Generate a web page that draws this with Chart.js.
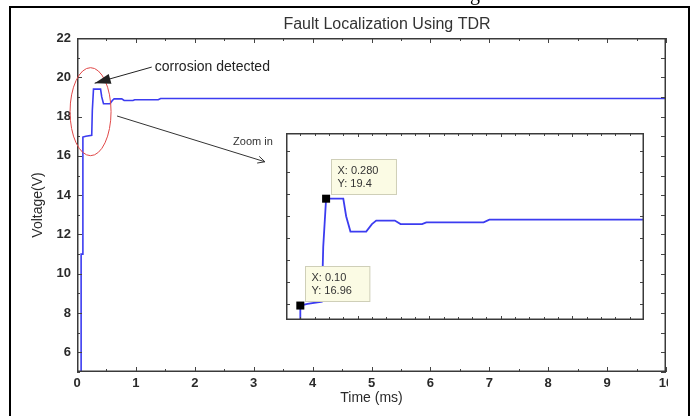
<!DOCTYPE html>
<html>
<head>
<meta charset="utf-8">
<script src="https://cdn.jsdelivr.net/npm/chart.js@4.4.0/dist/chart.umd.min.js"></script>
<style>
  html, body { margin: 0; padding: 0; background: #fff; }
  #wrap { position: relative; width: 696px; height: 416px; overflow: hidden; }
  #main { position: absolute; left: 0; top: 0; }
  #inset { position: absolute; left: 286px; top: 133px; background: #fff; }
</style>
</head>
<body>
<div id="wrap">
  <canvas id="main" width="696" height="416"></canvas>
  <canvas id="inset" width="358" height="187"></canvas>
</div>
<script>
// TDR trace
const timeMs  = [0.07, 0.07, 0.10, 0.10, 0.15, 0.25, 0.26, 0.28, 0.40, 0.42, 0.45, 0.56, 0.60, 0.63, 0.76, 0.80, 0.95, 0.98, 1.38, 1.42, 10];
const voltage = [0, 11, 11, 16.96, 17.0, 17.05, 18.3, 19.4, 19.4, 19.0, 18.65, 18.65, 18.82, 18.9, 18.9, 18.82, 18.82, 18.86, 18.86, 18.92, 18.92];

// tick labels of the main plot
const xTicks = [0, 1, 2, 3, 4, 5, 6, 7, 8, 9, 10];
const yTicks = [6, 8, 10, 12, 14, 16, 18, 20, 22];

// data tips shown in the zoomed view
const tipX = [0.10, 0.28];
const tipY = [16.96, 19.4];
const tipText = [['X: 0.10', 'Y: 16.96'], ['X: 0.280', 'Y: 19.4']];

const points = timeMs.map((t, i) => ({ x: t, y: voltage[i] }));
const lineBlue = '#3c3cf0';
const font = 'Liberation Sans';

// inward ticks on all four sides + box frame
function drawFrameTicks(chart, o) {
    const { ctx, chartArea: a, scales: { x, y } } = chart;
    ctx.save();
    ctx.strokeStyle = '#444';
    ctx.lineWidth = 1;
    ctx.beginPath();
    for (let i = Math.ceil(x.min / o.xStep - 1e-9); i * o.xStep <= x.max + 1e-9; i++) {
        const v = i * o.xStep;
        const major = Math.abs(v / o.xMajor - Math.round(v / o.xMajor)) < 1e-6;
        const len = major ? o.majorLen : o.minorLen;
        const px = Math.round(x.getPixelForValue(v)) + 0.5;
        ctx.moveTo(px, a.bottom); ctx.lineTo(px, a.bottom - len);
        ctx.moveTo(px, a.top); ctx.lineTo(px, a.top + len);
    }
    for (let i = Math.ceil(y.min / o.yStep - 1e-9); i * o.yStep <= y.max + 1e-9; i++) {
        const v = i * o.yStep;
        const major = Math.abs(v / o.yMajor - Math.round(v / o.yMajor)) < 1e-6;
        const py = Math.round(y.getPixelForValue(v)) + 0.5;
        ctx.moveTo(a.left, py); ctx.lineTo(a.left + (major ? o.majorLen : o.minorLen), py);
        ctx.moveTo(a.right, py); ctx.lineTo(a.right - o.majorLen, py);
    }
    ctx.stroke();
    ctx.lineWidth = o.frameWidth;
    ctx.strokeStyle = '#3a3a3a';
    const h = o.frameWidth / 2;
    ctx.strokeRect(a.left + h, a.top + h, a.width - 2 * h, a.height - 2 * h);
    ctx.restore();
}

function arrowHead(ctx, fromX, fromY, tipX, tipY, len, half, filled) {
    const dx = tipX - fromX, dy = tipY - fromY;
    const d = Math.hypot(dx, dy);
    const ux = dx / d, uy = dy / d;
    const bx = tipX - ux * len, by = tipY - uy * len;
    ctx.beginPath();
    ctx.moveTo(bx - uy * half, by + ux * half);
    ctx.lineTo(tipX, tipY);
    ctx.lineTo(bx + uy * half, by - ux * half);
    if (filled) { ctx.closePath(); ctx.fill(); } else { ctx.stroke(); }
}

const mainDecor = {
    id: 'mainDecor',
    afterDraw(chart) {
        drawFrameTicks(chart, { xStep: 0.5, xMajor: 1, yStep: 1, yMajor: 2, majorLen: 5, minorLen: 3, frameWidth: 1.5 });
        const { ctx, scales: { x, y } } = chart;
        ctx.save();

        // clipped "10" label like the screenshot
        ctx.fillStyle = '#fff';
        ctx.fillRect(668, 374, 19, 18);

        // title
        ctx.fillStyle = '#333';
        ctx.font = '16px "' + font + '"';
        ctx.textAlign = 'center';
        ctx.textBaseline = 'middle';
        ctx.fillText('Fault Localization Using TDR', 387, 25);

        // red ellipse round the step
        ctx.strokeStyle = '#e04848';
        ctx.lineWidth = 1;
        ctx.beginPath();
        ctx.ellipse(x.getPixelForValue(0.23), y.getPixelForValue(18.25), 20.5, 44, 0, 0, Math.PI * 2);
        ctx.stroke();

        // "corrosion detected" + arrow
        ctx.fillStyle = '#222';
        ctx.strokeStyle = '#222';
        ctx.font = '14px "' + font + '"';
        ctx.textAlign = 'left';
        const tx = x.getPixelForValue(1.32), ty = y.getPixelForValue(20.52);
        ctx.fillText('corrosion detected', tx, ty);
        const hx = x.getPixelForValue(0.3), hy = y.getPixelForValue(19.7);
        ctx.beginPath();
        ctx.moveTo(tx - 3, ty);
        ctx.lineTo(hx, hy);
        ctx.stroke();
        arrowHead(ctx, tx - 3, ty, hx, hy, 16, 5, true);

        // "Zoom in" arrow
        const sx = x.getPixelForValue(0.68), sy = y.getPixelForValue(18.03);
        const ex = x.getPixelForValue(3.19), ey = y.getPixelForValue(15.7);
        ctx.strokeStyle = '#333';
        ctx.beginPath();
        ctx.moveTo(sx, sy);
        ctx.lineTo(ex, ey);
        ctx.stroke();
        arrowHead(ctx, sx, sy, ex, ey, 7, 3.5, false);
        ctx.fillStyle = '#333';
        ctx.font = '11px "' + font + '"';
        ctx.fillText('Zoom in', x.getPixelForValue(2.65), y.getPixelForValue(16.72));

        // outer frame of the figure
        ctx.strokeStyle = '#000';
        ctx.lineWidth = 2;
        ctx.strokeRect(10, 7, 679, 430);

        // descender of the caption above, cut by the crop
        ctx.fillStyle = '#000';
        ctx.font = '20px "Liberation Serif"';
        ctx.textBaseline = 'alphabetic';
        ctx.fillText('g', 470, 0);
        ctx.restore();
    }
};

const insetDecor = {
    id: 'insetDecor',
    afterDraw(chart) {
        drawFrameTicks(chart, { xStep: 0.1, xMajor: 0.5, yStep: 0.5, yMajor: 0.5, majorLen: 4, minorLen: 3, frameWidth: 1.5 });
        const { ctx, scales: { x, y } } = chart;
        ctx.save();
        ctx.font = '11px "' + font + '"';
        ctx.textBaseline = 'middle';
        ctx.textAlign = 'left';
        tipX.forEach((tv, i) => {
            const mx = x.getPixelForValue(tv), my = y.getPixelForValue(tipY[i]);
            const w = Math.max(...tipText[i].map(s => ctx.measureText(s).width)) + 24;
            const bx = Math.round(mx + 5) + 0.5, by = Math.round(my - 40) + 0.5;
            ctx.fillStyle = '#fbfbe4';
            ctx.strokeStyle = '#cfcfb8';
            ctx.lineWidth = 1;
            ctx.fillRect(bx, by, w, 35);
            ctx.strokeRect(bx, by, w, 35);
            ctx.fillStyle = '#333';
            ctx.fillText(tipText[i][0], bx + 6, by + 11);
            ctx.fillText(tipText[i][1], bx + 6, by + 24);
            ctx.fillStyle = '#000';
            ctx.fillRect(mx - 4, my - 4, 8, 8);
        });
        ctx.restore();
    }
};

new Chart(document.getElementById('main').getContext('2d'), {
    type: 'line',
    data: {
        datasets: [{
            data: points,
            borderColor: lineBlue,
            borderWidth: 1.6,
            pointRadius: 0,
            tension: 0,
            fill: false
        }]
    },
    options: {
        responsive: false,
        animation: false,
        devicePixelRatio: 1,
        layout: { padding: { left: 10, right: 30, top: 38, bottom: 0 } },
        plugins: { legend: { display: false }, tooltip: { enabled: false } },
        scales: {
            x: {
                type: 'linear', min: 0, max: 10,
                afterBuildTicks: s => { s.ticks = xTicks.map(v => ({ value: v })); },
                afterFit: s => { s.height = 44; },
                grid: { display: false, drawTicks: false },
                border: { display: false },
                ticks: { padding: 4, color: '#2a2a2a', autoSkip: false, maxRotation: 0, font: { family: font, size: 13, weight: 'bold' } },
                title: { display: true, text: 'Time (ms)', color: '#2a2a2a', font: { family: font, size: 14 }, padding: { top: 0, bottom: 9 } }
            },
            y: {
                type: 'linear', min: 5, max: 22,
                afterBuildTicks: s => { s.ticks = yTicks.map(v => ({ value: v })); },
                afterFit: s => { s.width = 67; },
                grid: { display: false, drawTicks: false },
                border: { display: false },
                ticks: { padding: 6, color: '#2a2a2a', font: { family: font, size: 13, weight: 'bold' } },
                title: { display: true, text: 'Voltage(V)', color: '#2a2a2a', font: { family: font, size: 14 }, padding: { top: 20, bottom: 0 } }
            }
        }
    },
    plugins: [mainDecor]
});

new Chart(document.getElementById('inset').getContext('2d'), {
    type: 'line',
    data: {
        datasets: [{
            data: points,
            borderColor: lineBlue,
            borderWidth: 1.8,
            pointRadius: 0,
            tension: 0,
            fill: false
        }]
    },
    options: {
        responsive: false,
        animation: false,
        devicePixelRatio: 1,
        layout: { padding: 0 },
        plugins: { legend: { display: false }, tooltip: { enabled: false } },
        scales: {
            x: { type: 'linear', min: 0, max: 2.5, display: false },
            y: { type: 'linear', min: 16.63, max: 20.9, display: false }
        }
    },
    plugins: [insetDecor]
});
</script>
</body>
</html>
